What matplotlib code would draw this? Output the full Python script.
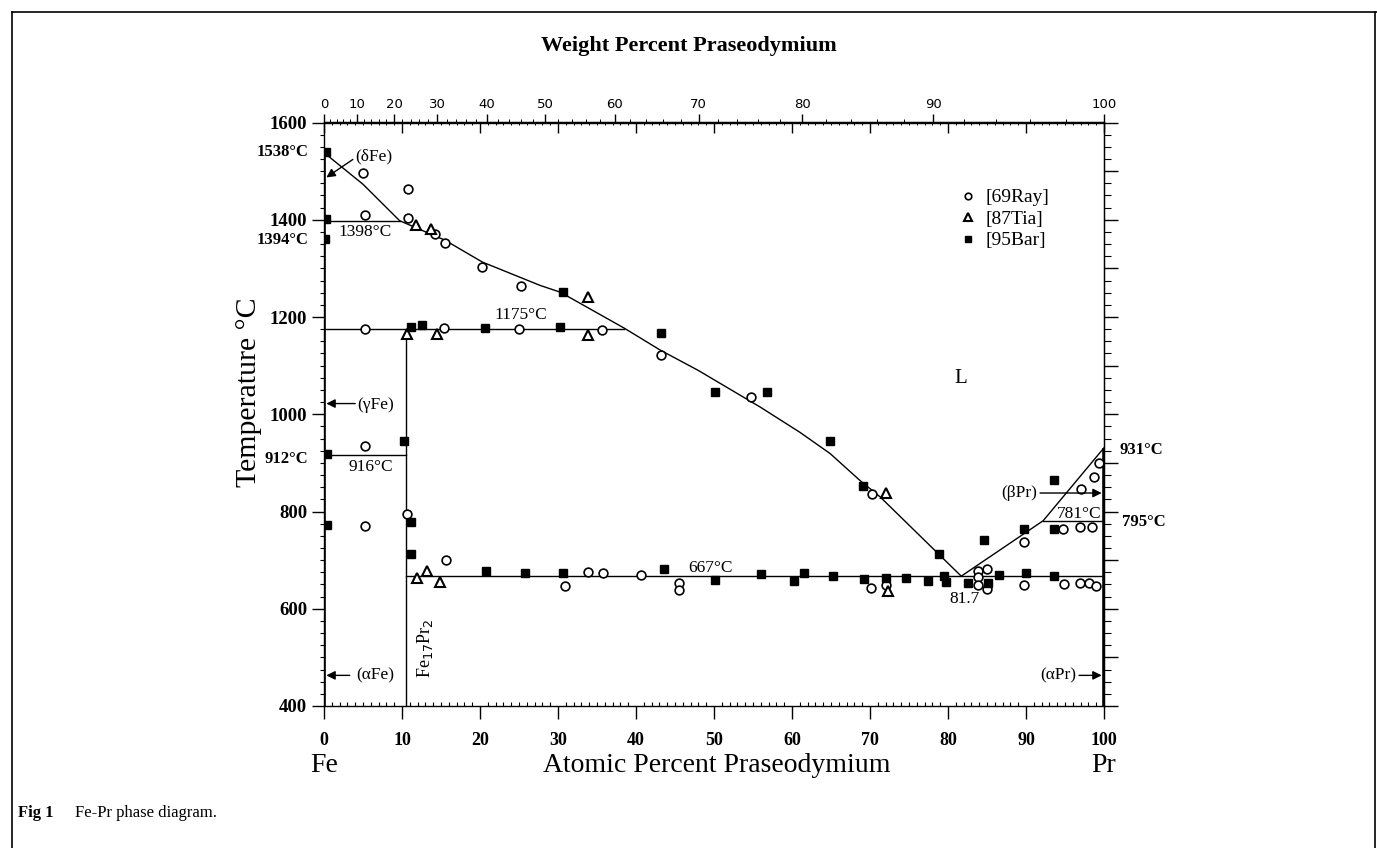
import numpy as np
import matplotlib
matplotlib.use("Agg")
import matplotlib.pyplot as plt
from matplotlib.ticker import MultipleLocator
from matplotlib.lines import Line2D

SERIF = "Liberation Serif"
plt.rcParams["font.family"] = [SERIF, "DejaVu Serif"]

# ---- data (atomic % Pr, temperature C) ----
ray_x = [5.0, 10.8, 5.2, 10.8, 14.2, 15.5, 20.3, 25.3, 5.2, 15.4, 25.0, 35.6, 43.2,
         54.7, 70.3, 5.2, 5.3, 10.6, 15.6, 30.9, 33.8, 35.8, 40.6, 45.5, 45.5, 70.1,
         72.0, 83.8, 85.0, 83.8, 83.8, 85.0, 89.7, 94.7, 96.9, 98.5, 97.1, 98.7, 99.3,
         89.7, 94.9, 96.9, 98.1, 99.0]
ray_t = [1497, 1463, 1409, 1404, 1370, 1353, 1303, 1263, 1176, 1177, 1176, 1174, 1121,
         1035, 835, 935, 770, 794, 701, 646, 675, 674, 669, 653, 639, 642,
         648, 677, 682, 665, 649, 640, 737, 763, 768, 769, 847, 870, 900,
         649, 651, 653, 653, 647]

tia_x = [11.75, 13.7, 33.8, 10.7, 14.5, 33.8, 72.1, 11.9, 13.2, 14.9, 72.3]
tia_t = [1390, 1381, 1241, 1166, 1166, 1164, 838, 663, 677, 655, 636]

bar_x = [0.3, 0.3, 0.1, 11.2, 12.5, 20.6, 30.3, 30.6, 43.2, 50.1, 56.8, 64.9, 69.1,
         78.8, 0.4, 10.3, 0.4, 11.2, 11.1, 20.8, 25.8, 30.6, 43.6, 50.1, 56.0, 60.3,
         61.6, 65.3, 69.2, 72.1, 74.6, 77.5, 79.5, 79.8, 82.6, 85.1, 86.5, 90.0, 93.6,
         84.6, 89.7, 93.6, 93.6]
bar_t = [1540, 1402, 1361, 1180, 1184, 1177, 1180, 1251, 1167, 1045, 1045, 944, 852,
         712, 919, 946, 773, 778, 713, 677, 673, 673, 681, 660, 671, 658,
         674, 667, 662, 663, 663, 658, 667, 656, 653, 653, 669, 673, 667,
         741, 765, 865, 765]

# liquidus, Fe side to eutectic
liq_x = [0, 5, 9.7, 15.5, 20.3, 27.7, 30.3, 38.5, 43.1, 48.0, 55.9, 61.0, 64.9, 68.7, 71.3, 81.7]
liq_t = [1538, 1473, 1398, 1358, 1313, 1265, 1251, 1177, 1132, 1090, 1015, 963, 919, 864, 830, 667]
# liquidus, Pr side
liq2_x = [81.7, 92.2, 100]
liq2_t = [667, 781, 931]

# invariant lines: (x start, x end, temperature)
iso_x0 = [0, 0, 0, 10.5, 92.2]
iso_x1 = [9.7, 38.5, 10.5, 100, 100]
iso_t = [1398, 1175, 916, 667, 781]

compound_x = 10.5

M_FE, M_PR = 55.845, 140.908


def at2wt(a):
    a = np.asarray(a, dtype=float)
    return 100 * a * M_PR / (a * M_PR + (100 - a) * M_FE)


def wt2at(w):
    w = np.asarray(w, dtype=float)
    return 100 * (w / M_PR) / (w / M_PR + (100 - w) / M_FE)


fig = plt.figure(figsize=(13.77, 8.48), dpi=100)
ax = fig.add_axes([324 / 1377, 1 - 706 / 848, 780 / 1377, 583.5 / 848])
ax.set_xlim(0, 100)
ax.set_ylim(400, 1600)

lw = 1.0
ax.plot(liq_x, liq_t, color="black", lw=lw)
ax.plot(liq2_x, liq2_t, color="black", lw=lw)
for x0, x1, t in zip(iso_x0, iso_x1, iso_t):
    ax.plot([x0, x1], [t, t], color="black", lw=lw)
ax.plot([compound_x, compound_x], [400, 1175], color="black", lw=lw)
ax.plot([0, 0], [400, 1538], color="black", lw=2.6, solid_capstyle="butt")
ax.plot([100, 100], [400, 931], color="black", lw=2.6, solid_capstyle="butt")

ax.plot(ray_x, ray_t, "o", ms=6.3, mfc="white", mec="black", mew=1.2, label="[69Ray]")
ax.plot(tia_x, tia_t, "^", ms=7.8, mfc="white", mec="black", mew=1.5, label="[87Tia]")
ax.plot(bar_x, bar_t, "s", ms=6.3, mfc="black", mec="black", label="[95Bar]")

leg = ax.legend(loc="upper left", bbox_to_anchor=(950 / 1377, 1 - 179 / 848),
                bbox_transform=fig.transFigure, frameon=False, fontsize=14,
                handlelength=0.8, handletextpad=0.5, labelspacing=0.2,
                borderpad=0, markerscale=0.75)

# ticks
ax.set_xticks(range(0, 101, 10))
ax.xaxis.set_minor_locator(MultipleLocator(1))
ax.set_yticks(range(400, 1601, 200))
ax.yaxis.set_minor_locator(MultipleLocator(25))
ax.tick_params(axis="x", which="major", direction="out", length=9, width=1, pad=10,
               labelsize=13)
ax.tick_params(axis="x", which="minor", direction="in", length=3, width=0.8)
ax.tick_params(axis="y", which="major", direction="out", length=9, width=1, pad=3,
               labelsize=13.5)
ax.tick_params(axis="y", which="minor", direction="out", length=3, width=0.8)
for lab in ax.get_xticklabels() + ax.get_yticklabels():
    lab.set_fontweight("bold")
for s in ax.spines.values():
    s.set_linewidth(1.0)

top_at = ax.secondary_xaxis("top")
top_at.set_xticks(range(0, 101, 10))
top_at.xaxis.set_minor_locator(MultipleLocator(1))
top_at.tick_params(which="major", direction="in", length=8, width=1, labeltop=False)
top_at.tick_params(which="minor", direction="in", length=2, width=0.7)

top_wt = ax.secondary_xaxis("top", functions=(at2wt, wt2at))
top_wt.set_xticks(range(0, 101, 10))
top_wt.xaxis.set_minor_locator(MultipleLocator(2))
top_wt.tick_params(which="major", direction="out", length=6, width=1, pad=2,
                   labelsize=9.5)
top_wt.tick_params(which="minor", direction="out", length=2.5, width=0.7)
for lab in top_wt.get_xticklabels():
    lab.set_fontfamily("DejaVu Sans")
top_wt.spines["top"].set_linewidth(1.0)

right_ax = ax.secondary_yaxis("right")
right_ax.set_yticks(range(400, 1601, 100))
right_ax.yaxis.set_minor_locator(MultipleLocator(25))
right_ax.tick_params(which="major", direction="out", length=10, width=1, labelright=False)
right_ax.tick_params(which="minor", direction="out", length=5, width=0.8)

# annotations
bold = dict(fontsize=12, fontweight="bold", va="center")
ax.text(-2.0, 1540, "1538°C", ha="right", clip_on=False, **bold)
ax.text(-2.0, 1359, "1394°C", ha="right", clip_on=False, **bold)
ax.text(-2.0, 907, "912°C", ha="right", clip_on=False, **bold)
ax.text(102.0, 926, "931°C", ha="left", clip_on=False, **bold)
ax.text(102.3, 778, "795°C", ha="left", clip_on=False, **bold)

norm = dict(fontsize=12.5, va="center")
ax.text(1.8, 1375, "1398°C", ha="left", **norm)
ax.text(21.9, 1204, "1175°C", ha="left", **norm)
ax.text(3.2, 891, "916°C", ha="left", **norm)
ax.text(46.7, 684, "667°C", ha="left", **norm)
ax.text(94.0, 795, "781°C", ha="left", **norm)
ax.text(80.2, 621, "81.7", ha="left", **norm)
ax.text(81.6, 1073, "L", ha="center", fontsize=15, va="center")
ax.text(12.9, 519, "Fe$_{17}$Pr$_2$", rotation=90, ha="center", va="center", fontsize=13)

arrow = dict(arrowstyle="-|>", color="black", lw=1.0, mutation_scale=13, shrinkA=0, shrinkB=0)
ax.text(4.0, 1531, "(δFe)", ha="left", **norm)
ax.annotate("", xy=(0.3, 1487), xytext=(3.7, 1524), arrowprops=arrow)
ax.text(4.3, 1019, "(γFe)", ha="left", **norm)
ax.annotate("", xy=(0.3, 1022), xytext=(4.0, 1022), arrowprops=arrow)
ax.text(4.1, 462, "(αFe)", ha="left", **norm)
ax.annotate("", xy=(0.3, 463), xytext=(3.3, 463), arrowprops=arrow)
ax.text(96.4, 463, "(αPr)", ha="right", **norm)
ax.annotate("", xy=(99.7, 463), xytext=(96.8, 463), arrowprops=arrow)
ax.text(91.4, 838, "(βPr)", ha="right", **norm)
ax.annotate("", xy=(99.7, 838), xytext=(91.8, 838), arrowprops=arrow)

# axis titles
ax.annotate("Atomic Percent Praseodymium", xy=(50.3, 83), xycoords=("data", "figure pixels"),
            ha="center", va="center", fontsize=20)
ax.annotate("Fe", xy=(0, 83), xycoords=("data", "figure pixels"),
            ha="center", va="center", fontsize=20)
ax.annotate("Pr", xy=(100, 83), xycoords=("data", "figure pixels"),
            ha="center", va="center", fontsize=20)
fig.text(689 / 1377, 1 - 46 / 848, "Weight Percent Praseodymium", ha="center", va="center",
         fontsize=16, fontweight="bold")
fig.text(249 / 1377, 1 - 392 / 848, "Temperature °C", rotation=90, ha="center", va="center",
         fontsize=21.5)

# caption and frame
fig.text(18 / 1377, 1 - 813 / 848, "Fig 1", fontsize=12, fontweight="bold", va="center")
fig.text(75 / 1377, 1 - 813 / 848, "Fe-Pr phase diagram.", fontsize=12, va="center")
fig.add_artist(Line2D([12 / 1377, 1], [1 - 12 / 848, 1 - 12 / 848], color="black", lw=1.2))
fig.add_artist(Line2D([12 / 1377, 12 / 1377], [0, 1 - 12 / 848], color="black", lw=1.2))
fig.add_artist(Line2D([1375 / 1377, 1375 / 1377], [0, 1 - 12 / 848], color="black", lw=1.2))

fig.savefig("out.png", dpi=100)
